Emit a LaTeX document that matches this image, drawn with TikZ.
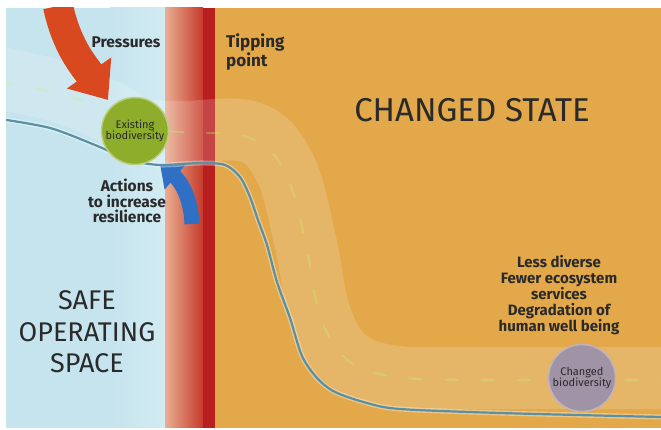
\documentclass[tikz,border=0pt]{standalone}
\usepackage{fontspec}
\setmainfont{Fira Sans}
\usetikzlibrary{arrows.meta,positioning}

\definecolor{safeblue}{HTML}{C6E4EE}
\definecolor{safelight}{HTML}{D2EBF3}
\definecolor{tipsalmon}{HTML}{E9AE92}
\definecolor{tipred}{HTML}{C63A2A}
\definecolor{tipdark}{HTML}{BA1F1F}
\definecolor{changedorange}{HTML}{E2A84A}
\definecolor{pressred}{HTML}{D9491F}
\definecolor{actionblue}{HTML}{3070C4}
\definecolor{curveblue}{HTML}{5A90A4}
\definecolor{existgreen}{HTML}{8EAD2A}
\definecolor{changedpurple}{HTML}{A093A5}
\definecolor{labeltext}{HTML}{2A2A2A}

\begin{document}
\begin{tikzpicture}[
    x=1pt, y=1pt,
    label/.style={text=labeltext, align=center, inner sep=0pt},
    boldlabel/.style={label, font=\bfseries\fontsize{15.5}{15.5}\selectfont},
    biglabel/.style={label, font=\fontsize{27}{31.5}\selectfont},
    state/.style={circle, minimum size=67pt, inner sep=0pt, align=center, text=labeltext, font=\fontsize{11}{11.5}\selectfont},
    pressarrow/.style={pressred, line width=30pt, -{Triangle[length=33pt, width=52pt]}},
    actionarrow/.style={actionblue, line width=15pt, -{Triangle[length=20pt, width=32pt]}},
    band/.style={white, opacity=0.17, line width=62pt},
    track/.style={curveblue, line width=2.2pt}
]
    \useasboundingbox (0,0) rectangle (661,430);
    \fill[white] (0,0) rectangle (661,430);

    \begin{scope}
    \clip (6,2) rectangle (661,422);

    % Zones
    \fill[safeblue] (6,2) rectangle (166,422);
    \shade[left color=safeblue, right color=safelight] (110,2) rectangle (166,422);
    \shade[left color=tipsalmon, right color=tipred] (165,2) rectangle (203,422);
    \fill[tipdark] (203,2) rectangle (215,422);
    \fill[changedorange] (215,2) rectangle (661,422);

    % Pale band along the path
    \draw[band] plot[smooth, tension=0.6] coordinates {(0,352) (60,338) (110,318) (135,302) (180,298) (250,298) (285,262) (305,190) (320,115) (345,72) (390,54) (470,52) (661,52)};
    \draw[white!60!green!70!yellow, opacity=0.3, line width=2pt, dash pattern=on 14pt off 22pt] plot[smooth, tension=0.6] coordinates {(0,348) (60,336) (110,318) (135,302) (180,298) (250,292) (285,258) (305,190) (320,115) (345,72) (390,54) (470,50) (661,50)};

    % Pressures
    \coordinate (presstop) at (58,424);
    \coordinate (presstip) at (108,330);
    \draw[pressarrow] (presstop) to[out=-78, in=125] (presstip);

    % Actions
    \coordinate (actbase) at (192,206);
    \coordinate (acttip) at (160,266);
    \draw[actionarrow] (actbase) to[out=92, in=-40] (acttip);

    % System state curve
    \draw[white, opacity=0.35, line width=5pt] plot[smooth, tension=0.5] coordinates {(0,311) (50,302) (95,285) (130,270) (160,265) (200,267) (225,265) (240,253) (250,233) (258,210) (267,185) (277,148) (290,112) (302,74) (317,52) (335,38) (367,27) (400,21) (500,17) (661,13)};
    \draw[track] plot[smooth, tension=0.5] coordinates {(0,311) (50,302) (95,285) (130,270) (160,265) (200,267) (225,265) (240,253) (250,233) (258,210) (267,185) (277,148) (290,112) (302,74) (317,52) (335,38) (367,27) (400,21) (500,17) (661,13)};
    \end{scope}

    % States
    \node[state, fill=existgreen, draw=existgreen!60!white, line width=1.5pt] (exist) at (135,299) {Existing\\biodiversity};
    \node[state, fill=changedpurple, draw=changedpurple!70!white, line width=1.5pt] (changed) at (582,52) {Changed\\biodiversity};

    % Labels
    \node[boldlabel] (pressures) at (126,388) {Pressures};
    \node[boldlabel, font=\bfseries\fontsize{17}{19.5}\selectfont, align=left, anchor=west] (tipping) at (226,378) {Tipping\\point};
    \node[label, font=\fontsize{33}{36}\selectfont] (changedstate) at (472,320) {CHANGED STATE};
    \node[boldlabel] (actions) at (127,229) {Actions\\to increase\\resilience};
    \node[biglabel] (safe) at (87,98) {SAFE\\OPERATING\\SPACE};
    \node[boldlabel, font=\bfseries\fontsize{15}{16}\selectfont] (effects) at (559,135) {Less diverse\\Fewer ecosystem\\services\\Degradation of\\human well being};
\end{tikzpicture}
\end{document}
